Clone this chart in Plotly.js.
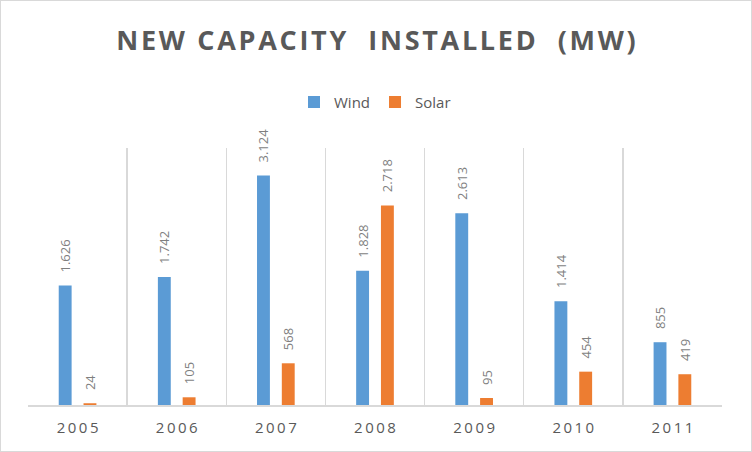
<!DOCTYPE html>
<html>
<head>
<meta charset="utf-8">
<script src="https://cdn.plot.ly/plotly-3.0.1.min.js"></script>
<style>
  body { margin: 0; background: #fff; }
  #chart { width: 750px; height: 450px; border: 1px solid #d9d9d9; }
</style>
</head>
<body>
<div id="chart"></div>
<script>
// data (MW)
var years = ["2005", "2006", "2007", "2008", "2009", "2010", "2011"];
var wind = [1626, 1742, 3124, 1828, 2613, 1414, 855];
var solar = [24, 105, 568, 2718, 95, 454, 419];

// spread characters a bit, like the letter spacing in the original
function spaced(s, sep) {
  return s.split("").join(sep);
}

var grey = "#595959";
var labelFont = { family: "Open Sans", size: 13, color: "#7f7f7f" };
// leading nbsp's lift the rotated labels off the bar tops
var labelTemplate = "\u00A0\u00A0\u00A0%{y:,.0f}";

var traces = [
  {
    type: "bar",
    name: "Wind",
    x: years,
    y: wind,
    marker: { color: "#5b9bd5" },
    texttemplate: labelTemplate,
    textposition: "outside",
    textangle: -90,
    cliponaxis: false,
    textfont: labelFont,
    outsidetextfont: labelFont,
    constraintext: "none"
  },
  {
    type: "bar",
    name: "Solar",
    x: years,
    y: solar,
    marker: { color: "#ed7d31" },
    texttemplate: labelTemplate,
    textposition: "outside",
    textangle: -90,
    cliponaxis: false,
    textfont: labelFont,
    outsidetextfont: labelFont,
    constraintext: "none"
  }
];

var layout = {
  width: 750,
  height: 450,
  margin: { l: 27, r: 29, t: 147, b: 46 },
  paper_bgcolor: "#fff",
  plot_bgcolor: "#fff",
  separators: ",.",
  font: { family: "Open Sans", color: grey },
  uniformtext: { mode: "show", minsize: 13 },
  title: {
    text: "<b>" + spaced("NEW CAPACITY  INSTALLED  (MW)", "\u200A") + "</b>",
    font: { family: "Open Sans", size: 27, color: grey },
    x: 0.5,
    xanchor: "center",
    y: 0.912,
    yanchor: "middle"
  },
  showlegend: true,
  legend: {
    orientation: "h",
    x: 0.5,
    xanchor: "center",
    y: 1.178,
    yanchor: "middle",
    font: { size: 15, color: grey },
    itemwidth: 30,
    traceorder: "normal"
  },
  barmode: "group",
  bargap: 0.5,
  bargroupgap: 0.48,
  xaxis: {
    type: "category",
    tickson: "boundaries",
    showgrid: true,
    gridcolor: "#d9d9d9",
    gridwidth: 1.5,
    showline: true,
    linecolor: "#d9d9d9",
    linewidth: 2,
    ticks: "",
    tickvals: years,
    ticktext: years.map(function (y) { return spaced(y, "\u2009"); }),
    tickfont: { size: 15, color: grey },
    ticklabelstandoff: 8,
    fixedrange: true
  },
  yaxis: {
    range: [0, 3500],
    visible: false,
    showgrid: false,
    zeroline: false,
    fixedrange: true
  }
};

Plotly.newPlot("chart", traces, layout, { displayModeBar: false, staticPlot: true });
</script>
</body>
</html>
